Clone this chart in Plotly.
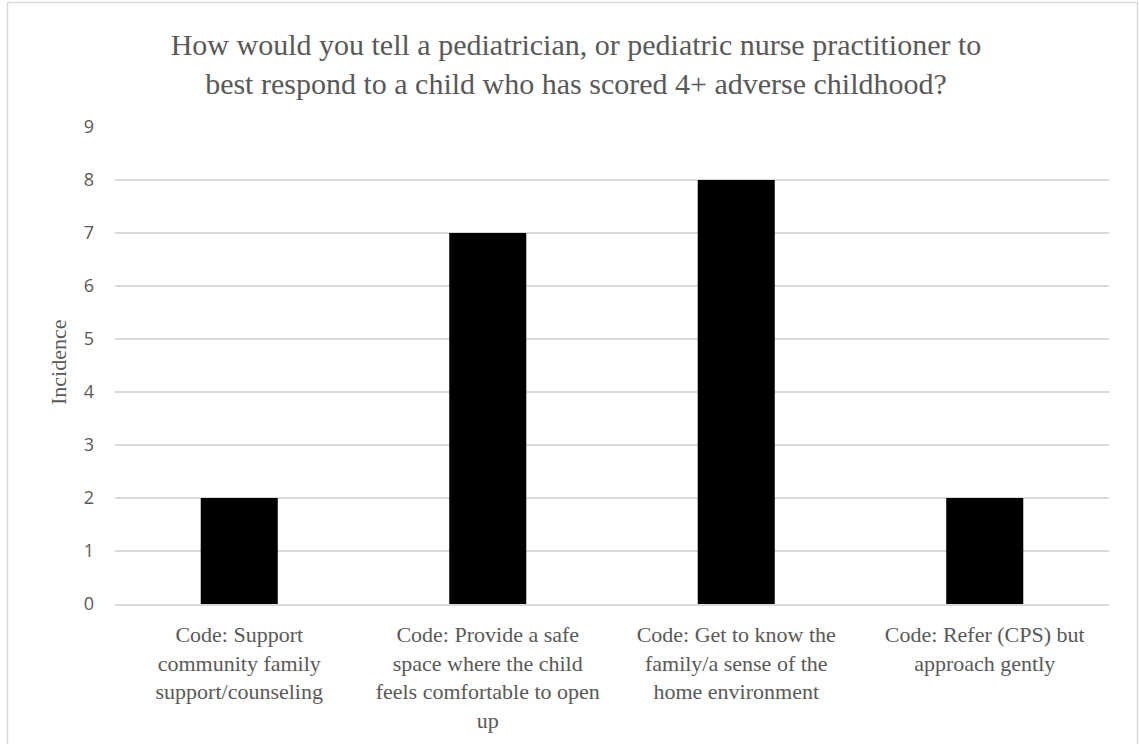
import plotly.graph_objects as go

# Survey responses (coded) and how many respondents gave each
categories = [
    "Code: Support<br>community family<br>support/counseling",
    "Code: Provide a safe<br>space where the child<br>feels comfortable to open<br>up",
    "Code: Get to know the<br>family/a sense of the<br>home environment",
    "Code: Refer (CPS) but<br>approach gently",
]
incidence = [2, 7, 8, 2]
y_ticks = list(range(0, 10))

title_text = ("How would you tell a pediatrician, or pediatric nurse practitioner to<br>"
              "best respond to a child who has scored 4+ adverse childhood?")

W, H = 1139, 744
ML, MR, MT, MB = 115, 30, 127, 140
plot_w = W - ML - MR
plot_h = H - MT - MB

text_grey = "#595959"
grid_grey = "#d9d9d9"
serif = "Liberation Serif"
sans = "Open Sans"

fig = go.Figure(
    go.Bar(
        x=categories,
        y=incidence,
        marker=dict(color="black", line=dict(width=0)),
        hoverinfo="x+y",
    )
)

fig.update_layout(
    width=W,
    height=H,
    margin=dict(l=ML, r=MR, t=MT, b=MB, autoexpand=False),
    paper_bgcolor="white",
    plot_bgcolor="white",
    bargap=0.69,
    showlegend=False,
    font=dict(family=serif, color=text_grey),
    title=dict(
        text=title_text,
        x=576 / W,
        xanchor="center",
        xref="container",
        y=1 - 55 / H,
        yanchor="middle",
        yref="container",
        font=dict(family=serif, size=30, color=text_grey),
    ),
    xaxis=dict(
        showline=True,
        linecolor=grid_grey,
        linewidth=1.5,
        ticks="",
        tickfont=dict(family=serif, size=22, color=text_grey),
        ticklabelstandoff=10,
        showgrid=False,
    ),
    yaxis=dict(
        range=[0, 9],
        tickvals=y_ticks,
        ticktext=[str(v) for v in y_ticks],
        showgrid=True,
        gridcolor=grid_grey,
        gridwidth=1.5,
        zeroline=False,
        showline=False,
        ticks="",
        ticklabelstandoff=20,
        tickfont=dict(family=sans, size=18, color=text_grey),
    ),
    annotations=[
        dict(
            text="Incidence",
            textangle=-90,
            xref="paper",
            yref="paper",
            x=(58 - ML) / plot_w,
            y=(H - MB - 362) / plot_h,
            xanchor="center",
            yanchor="middle",
            showarrow=False,
            font=dict(family=serif, size=22, color=text_grey),
        )
    ],
    shapes=[
        # chart-area frame
        dict(
            type="rect",
            xref="paper",
            yref="paper",
            x0=(7.5 - ML) / plot_w,
            x1=(1137.5 - ML) / plot_w,
            y0=(H - MB - 760) / plot_h,
            y1=(H - MB - 2.5) / plot_h,
            line=dict(color=grid_grey, width=1.5),
            fillcolor="rgba(0,0,0,0)",
            layer="below",
        )
    ],
)

fig.write_html("out.html")
